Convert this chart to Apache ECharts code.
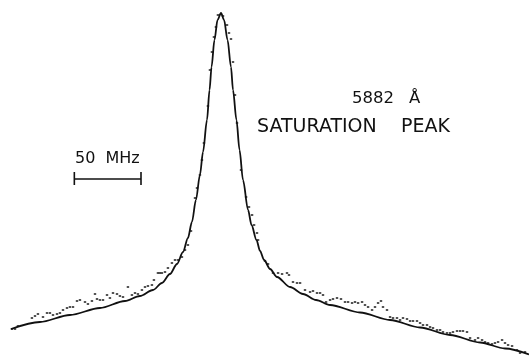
<!DOCTYPE html>
<html>
<head>
<meta charset="utf-8">
<script src="https://cdn.jsdelivr.net/npm/echarts@6/dist/echarts.min.js"></script>
<style>
  html, body { margin: 0; padding: 0; background: #ffffff; }
  #chart { width: 529px; height: 356px; }
</style>
</head>
<body>
<div id="chart"></div>
<script>
// Frequency offset from line centre (MHz) and signal (arb. units)

// Fitted line profile
const fitMHz = [-157.5, -135.8, -113.3, -90.8, -72, -60.8, -51, -44.3, -38.3, -33, -28.5, -24.8, -21.8, -18.8, -15.8, -13.5,
  -10.5, -8.6, -7.1, -4.9, -2.6, 0,
  2.3, 4.9, 7.5, 9, 11.6, 13.9, 16.5, 20.3, 22.9, 26.6, 29.3, 32.3, 36.8, 42, 51.8, 61.5, 71.3, 81.8, 104.3, 126.8,
  149.3, 171.8, 194.3, 213, 231];
const fitSignal = [27, 34, 41, 48, 55, 60, 66, 73, 82, 92, 104, 118, 134, 156, 181, 204,
  236, 266, 289, 316, 336, 343,
  336, 316, 289, 266, 236, 206, 176, 146, 131, 116, 105, 96, 87, 79, 69, 62, 56, 51, 43.5, 36,
  28.5, 21, 13.5, 7.5, 1.5];

// Measured points
const measMHz = [
  -156.8, -154.5, -152.3, -141.8, -139.5, -137.3, -133.5, -130.5, -128.3, -126, -123, -120.8, -118.5, -115.5, -113.3, -111,
  -108, -105.8, -102, -99.8, -96.8, -94.5, -93, -90.8, -88.5, -85.5, -83.3, -81, -78, -75.8, -73.5, -69.8, -66.8, -64.5,
  -62.3, -59.3, -57, -54.8, -51.8, -50.3, -47.3, -45.8, -44.3, -42, -39.8, -36.8, -34.5, -32.3, -29.3, -27, -24.8, -22.5,
  -19.5, -18, -15.8, -14.3, -12.8, -9.8, -8.3, -6.8, -5.3, -3.8, -2.3,
  1.5, 4.5, 6, 7.5, 9, 10.5, 12, 15, 18.8, 21, 23.3, 24.8, 27, 27.8, 33, 35.3, 39, 42.8, 45.8, 49.5, 51, 54, 57, 59.3,
  63, 66.8, 69, 72, 74.3, 76.5, 78.8, 81.8, 84, 87, 90, 93, 95.3, 98.3, 100.5, 102.8, 105.8, 108, 110.3, 113.3, 115.5,
  117.8, 120, 121.5, 124.5, 126.8, 129, 132, 134.3, 136.5, 139.5, 141.8, 144, 147, 149.3, 151.5, 154.5, 156.8, 159, 162,
  164.3, 166.5, 169.5, 171.8, 174, 177, 179.3, 181.5, 184.5, 186.8, 190.5, 192.8, 195.8, 198, 200.3, 203.3, 205.5, 207.8,
  210.8, 213, 215.3, 218.3, 222, 224.3, 228
];
const measSignal = [
  27, 27, 30, 38, 40, 42, 39, 43, 43, 41, 42, 43, 46, 48, 49, 49,
  55, 56, 54, 52, 55, 62, 57, 56, 56, 61, 58, 63, 62, 60, 59, 69, 61, 63,
  62, 66, 69, 70, 71, 76, 83, 83, 83, 84, 88, 93, 96, 96, 99, 106, 111, 125,
  158, 168, 181, 196, 213, 250, 286, 304, 319, 329, 341,
  340, 331, 323, 317, 294, 261, 233, 186, 159, 149, 141, 131, 123, 116, 95, 92, 83, 83, 82, 83, 81, 74, 73, 73,
  66, 64, 65, 63, 63, 61, 54, 56, 57, 58, 57, 54, 54, 53, 54, 53, 54, 51, 49, 46, 49,
  53, 55, 49, 46, 39, 38, 38, 36, 38, 37, 35, 35, 35, 33, 31, 31, 29, 28, 26,
  26, 24, 23, 23, 24, 25, 25, 25, 24, 18, 16, 18, 16, 14, 13, 12, 13, 14,
  16, 13, 11, 10, 6, 3, 4
];

// 50 MHz scale bar: ends (MHz), bar level and end-tick extent (signal)
const scaleBarMHz = [-110, -60];
const scaleBarLevel = 177;
const scaleTickSpan = [171, 184];

const labelScale = '50  MHz';
const labelWave = '5882';
const labelUnit = 'Å';
const labelTitle = 'SATURATION    PEAK';

const ink = '#111111';
const font = '"DejaVu Sans", "Liberation Sans", sans-serif';

const fitData = fitMHz.map((x, i) => [x, fitSignal[i]]);
const measData = measMHz.map((x, i) => [x, measSignal[i]]);

const barLine = (a, b) => ({
  type: 'line', data: [a, b], symbol: 'none', silent: true,
  lineStyle: { color: ink, width: 1.6 }, z: 3
});

const chart = echarts.init(document.getElementById('chart'), null, { renderer: 'canvas' });
chart.setOption({
  backgroundColor: '#ffffff',
  animation: false,
  grid: { left: 0, right: 0, top: 0, bottom: 0 },
  xAxis: { type: 'value', min: -165.75, max: 231, show: false },
  yAxis: { type: 'value', min: 0, max: 356, show: false },
  series: [
    {
      type: 'line', data: fitData, symbol: 'none', smooth: 0.3, smoothMonotone: 'x',
      lineStyle: { color: ink, width: 1.8 }, z: 2
    },
    {
      type: 'scatter', data: measData, symbol: 'rect', symbolSize: [2.4, 1.8],
      itemStyle: { color: ink }, z: 4
    },
    barLine([scaleBarMHz[0], scaleBarLevel], [scaleBarMHz[1], scaleBarLevel]),
    barLine([scaleBarMHz[0], scaleTickSpan[0]], [scaleBarMHz[0], scaleTickSpan[1]]),
    barLine([scaleBarMHz[1], scaleTickSpan[0]], [scaleBarMHz[1], scaleTickSpan[1]])
  ],
  graphic: [
    { type: 'text', left: 75, top: 151, style: { text: labelScale, font: '16px ' + font, fill: ink } },
    { type: 'text', left: 352, top: 90, style: { text: labelWave, font: '16.5px ' + font, fill: ink } },
    { type: 'text', left: 409, top: 90, style: { text: labelUnit, font: '16.5px ' + font, fill: ink } },
    { type: 'text', left: 257, top: 118, style: { text: labelTitle, font: '19px ' + font, fill: ink } }
  ]
});
</script>
</body>
</html>
